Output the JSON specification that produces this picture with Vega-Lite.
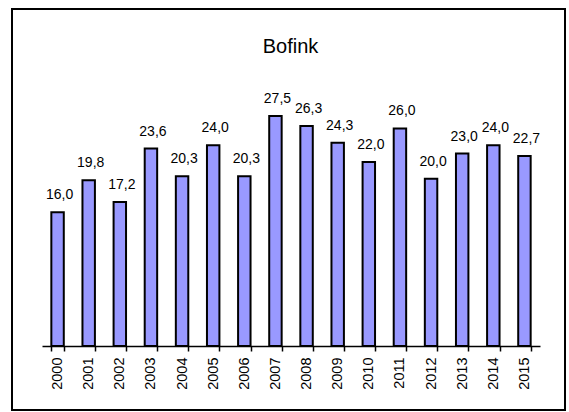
{
  "$schema": "https://vega.github.io/schema/vega-lite/v6.json",
  "width": 553,
  "height": 401,
  "autosize": "none",
  "padding": {"left": 12, "top": 9, "right": 4, "bottom": 2},
  "background": "white",
  "config": {
    "font": "Liberation Sans",
    "locale": {"number": {"decimal": ",", "thousands": " ", "grouping": [3], "currency": ["", " kr"]}},
    "view": {"stroke": "black", "strokeWidth": 2}
  },
  "title": {
    "text": "Bofink",
    "fontSize": 20,
    "fontWeight": "normal",
    "font": "Liberation Sans",
    "color": "black",
    "anchor": "middle",
    "baseline": "alphabetic",
    "offset": -64,
    "dx": 2
  },
  "data": {
    "values": [
      {"year": "2000", "value": 16.0},
      {"year": "2001", "value": 19.8},
      {"year": "2002", "value": 17.2},
      {"year": "2003", "value": 23.6},
      {"year": "2004", "value": 20.3},
      {"year": "2005", "value": 24.0},
      {"year": "2006", "value": 20.3},
      {"year": "2007", "value": 27.5},
      {"year": "2008", "value": 26.3},
      {"year": "2009", "value": 24.3},
      {"year": "2010", "value": 22.0},
      {"year": "2011", "value": 26.0},
      {"year": "2012", "value": 20.0},
      {"year": "2013", "value": 23.0},
      {"year": "2014", "value": 24.0},
      {"year": "2015", "value": 22.7}
    ]
  },
  "encoding": {
    "x": {
      "field": "year",
      "type": "nominal",
      "scale": {"range": [30, 528], "paddingInner": 0.6, "paddingOuter": 0.3},
      "axis": {
        "title": null,
        "offset": -64,
        "labelAngle": -90,
        "labelFontSize": 14.5,
        "labelColor": "black",
        "labelPadding": 6,
        "tickBand": "extent",
        "tickColor": "black",
        "tickSize": 5,
        "tickWidth": 1.5,
        "domainColor": "black",
        "domainWidth": 1.5,
        "grid": false
      }
    },
    "y": {
      "field": "value",
      "type": "quantitative",
      "scale": {"domain": [0, 30], "range": [337, 86], "nice": false, "zero": true},
      "axis": null
    }
  },
  "layer": [
    {
      "mark": {"type": "bar", "color": "#9999ff", "stroke": "black", "strokeWidth": 2}
    },
    {
      "mark": {"type": "text", "fontSize": 14, "color": "black", "baseline": "alphabetic", "dy": -13, "dx": 2},
      "encoding": {"text": {"field": "value", "type": "quantitative", "format": ".1f"}}
    }
  ]
}
